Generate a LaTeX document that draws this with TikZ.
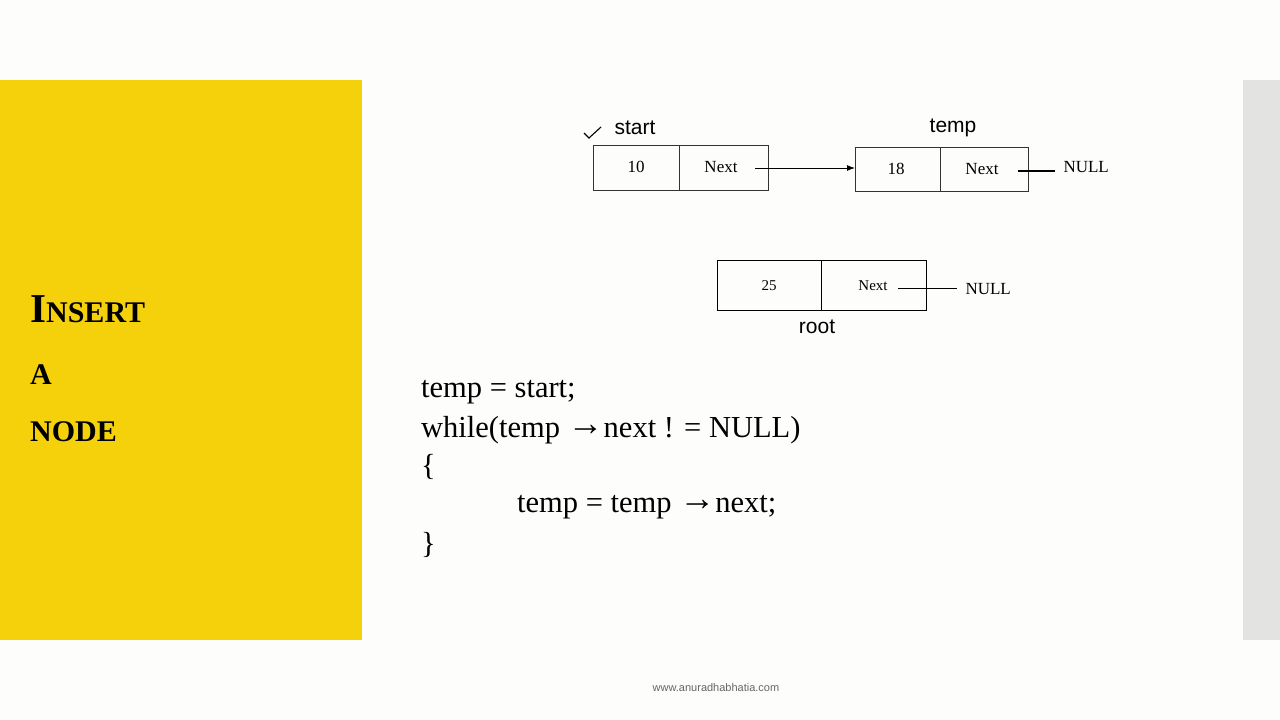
\documentclass[tikz,border=0pt]{standalone}
\usepackage{fontspec}
\usetikzlibrary{arrows.meta}
\setmainfont{Liberation Serif}
\newfontfamily\lsans{Liberation Sans}
\definecolor{bgc}{RGB}{253,253,251}
\definecolor{ylw}{RGB}{245,209,12}
\definecolor{grs}{RGB}{227,227,225}
\newcommand{\myarr}{\raisebox{2pt}{\lsans\fontsize{36}{36}\selectfont→}}
\begin{document}
\begin{tikzpicture}[x=1pt,y=-1pt,
  cell/.style={draw=black!80,line width=0.9pt},
  celltxt/.style={font=\fontsize{17}{17}\selectfont},
  lbl/.style={font=\lsans\fontsize{21}{21}\selectfont},
  code/.style={anchor=base west,font=\fontsize{30.5}{31}\selectfont,inner sep=0pt},
  ttl/.style={anchor=base west,font=\bfseries,inner sep=0pt},
  nul/.style={font=\fontsize{17}{17}\selectfont,anchor=west}]
\useasboundingbox (0,0) rectangle (1280,720);
\fill[bgc] (0,0) rectangle (1280,720);
\fill[ylw] (0,80) rectangle (362,640);
\fill[grs] (1243,80) rectangle (1280,640);
% title
\node[ttl] (t1) at (30,322) {\fontsize{41}{41}\selectfont I\fontsize{30}{30}\selectfont NSERT};
\node[ttl] (t2) at (30,384) {\fontsize{30}{30}\selectfont A};
\node[ttl] (t3) at (30,441) {\fontsize{30}{30}\selectfont NODE};
% start list node
\draw[cell] (593,145) rectangle (768,190);
\draw[cell] (679,145) -- (679,190);
\node[celltxt] (s10) at (636,167) {10};
\node[celltxt] (snext) at (721,167) {Next};
\node[lbl] (start) at (635,128) {start};
\draw[line width=1.1pt] (584,133) -- (589,138) -- (601,127);
% temp node
\draw[cell] (855,147) rectangle (1028,191);
\draw[cell] (940,147) -- (940,191);
\node[celltxt] (t18) at (896,169) {18};
\node[celltxt] (tnext) at (982,169) {Next};
\node[lbl] (temp) at (953,128) {temp};
\coordinate (tin) at (855,168);
\draw[-{Latex[length=8pt,width=6pt]},line width=1pt] (755,168) -- (tin);
\coordinate (tn1) at (1018,171);
\coordinate (tn2) at (1055,171);
\draw[line width=1.3pt] (tn1) -- (tn2);
\node[nul] (null1) at (1060,167) {NULL};
% root node
\draw[cell,draw=black] (717,260) rectangle (926,310);
\draw[cell,draw=black] (821,260) -- (821,310);
\node[font=\fontsize{15}{15}\selectfont] (r25) at (769,286) {25};
\node[font=\fontsize{15}{15}\selectfont] (rnext) at (873,286) {Next};
\node[lbl] (root) at (817,327) {root};
\coordinate (rn1) at (898,288);
\coordinate (rn2) at (957,288);
\draw[line width=1pt] (rn1) -- (rn2);
\node[nul] (null2) at (962,289) {NULL};
% code
\node[code] (c1) at (421,397) {temp = start;};
\node[code] (c2) at (421,437) {while(temp \myarr next ! = NULL)};
\node[code] (c3) at (421,475) {\{};
\node[code] (c4) at (517,512) {temp = temp \myarr next;};
\node[code] (c5) at (421,553) {\}};
\node[font=\lsans\fontsize{11}{11}\selectfont,text=black!60] (foot) at (716,688) {www.anuradhabhatia.com};
\end{tikzpicture}
\end{document}
